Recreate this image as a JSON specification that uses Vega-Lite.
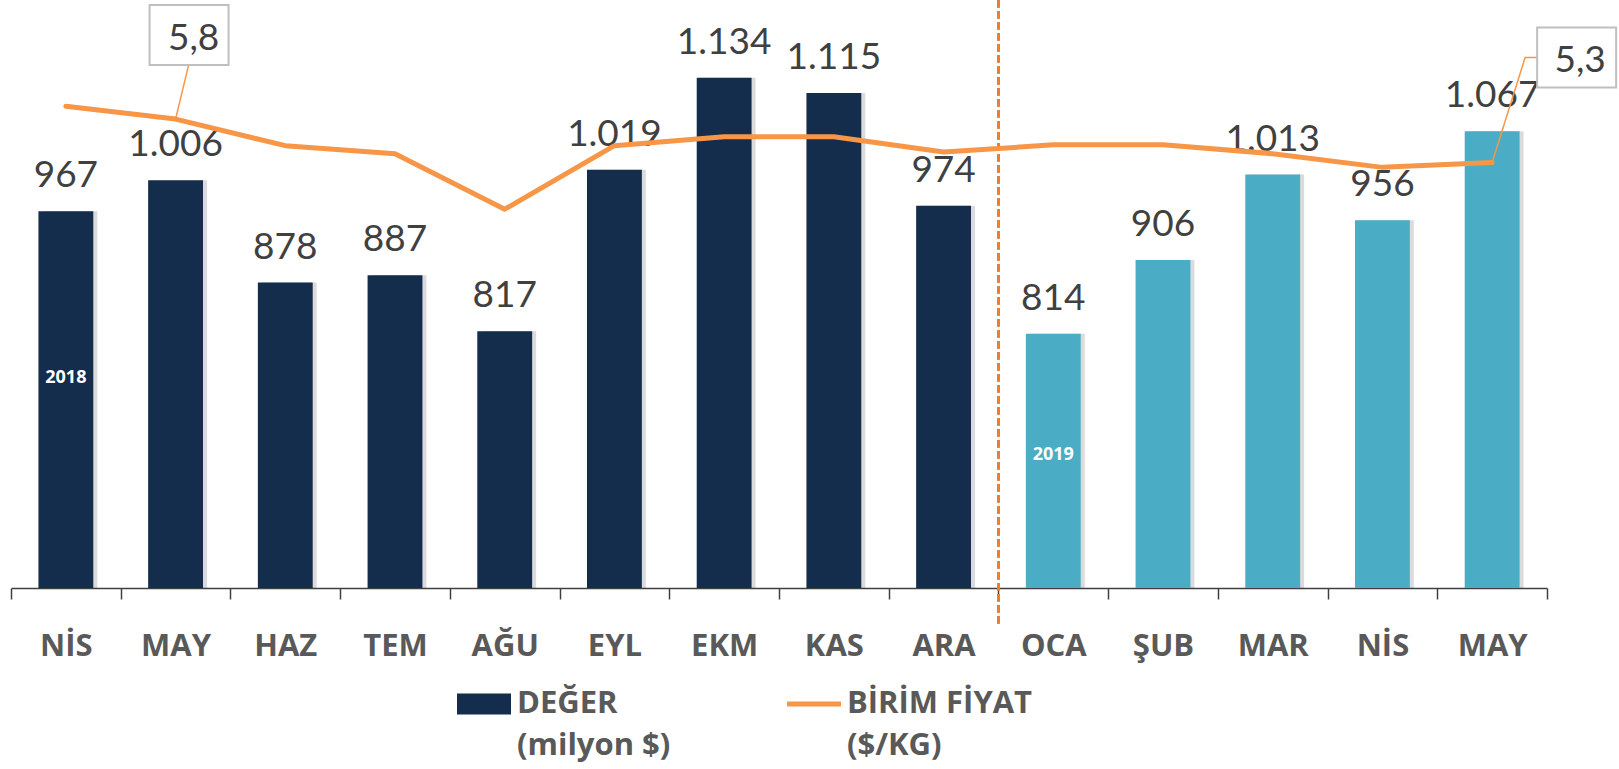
{
  "$schema": "https://vega.github.io/schema/vega-lite/v6.json",
  "width": 1536,
  "height": 563,
  "autosize": {"type": "none"},
  "padding": {"left": 11, "top": 25, "right": 72, "bottom": 181},
  "background": "white",
  "datasets": {
    "aylar": [
      {"key": "NİS-18", "yil": "2018", "deger": 967, "fiyat": 5.99},
      {"key": "MAY-18", "yil": "2018", "deger": 1006, "fiyat": 5.83},
      {"key": "HAZ-18", "yil": "2018", "deger": 878, "fiyat": 5.50},
      {"key": "TEM-18", "yil": "2018", "deger": 887, "fiyat": 5.40},
      {"key": "AĞU-18", "yil": "2018", "deger": 817, "fiyat": 4.71},
      {"key": "EYL-18", "yil": "2018", "deger": 1019, "fiyat": 5.50},
      {"key": "EKM-18", "yil": "2018", "deger": 1134, "fiyat": 5.61},
      {"key": "KAS-18", "yil": "2018", "deger": 1115, "fiyat": 5.61},
      {"key": "ARA-18", "yil": "2018", "deger": 974, "fiyat": 5.42},
      {"key": "OCA-19", "yil": "2019", "deger": 814, "fiyat": 5.51},
      {"key": "ŞUB-19", "yil": "2019", "deger": 906, "fiyat": 5.51},
      {"key": "MAR-19", "yil": "2019", "deger": 1013, "fiyat": 5.40},
      {"key": "NİS-19", "yil": "2019", "deger": 956, "fiyat": 5.23},
      {"key": "MAY-19", "yil": "2019", "deger": 1067, "fiyat": 5.29}
    ],
    "lejant": [{"seri": "DEĞER"}, {"seri": "BİRİM FİYAT"}]
  },
  "layer": [
    {
      "data": {"name": "aylar"},
      "encoding": {
        "x": {
          "field": "key", "type": "nominal", "sort": null,
          "scale": {"paddingInner": 0, "paddingOuter": 0},
          "axis": {
            "title": null, "labelExpr": "split(datum.label, '-')[0]", "labelAngle": 0,
            "labelFont": "Open Sans", "labelFontWeight": "bold", "labelFontSize": 31, "labelColor": "#595959",
            "labelBaseline": "alphabetic", "labelPadding": 56,
            "tickBand": "extent", "tickSize": 11, "tickColor": "#404040", "tickWidth": 1.5,
            "domainColor": "#404040", "domainWidth": 1.5, "grid": false
          }
        }
      },
      "layer": [
        {
          "mark": {"type": "bar", "color": "#000000", "opacity": 0.14, "xOffset": 4, "width": {"band": 0.5}},
          "encoding": {
            "y": {"field": "deger", "type": "quantitative", "scale": {"domain": [496, 1200]}, "axis": null},
            "y2": {"datum": 496}
          }
        },
        {
          "mark": {"type": "bar", "width": {"band": 0.5}},
          "encoding": {
            "y": {"field": "deger", "type": "quantitative", "scale": {"domain": [496, 1200]}, "axis": null},
            "y2": {"datum": 496},
            "fill": {"field": "yil", "type": "nominal", "scale": {"domain": ["2018", "2019"], "range": ["#142D4C", "#4BACC6"]}, "legend": null}
          }
        },
        {
          "mark": {"type": "text", "font": "Lato", "fontSize": 37, "color": "#404040", "baseline": "alphabetic", "dy": -24},
          "encoding": {
            "y": {"field": "deger", "type": "quantitative", "scale": {"domain": [496, 1200]}, "axis": null},
            "text": {"field": "deger", "type": "quantitative", "format": ",d"}
          }
        },
        {
          "transform": [{"filter": "datum.key == 'NİS-18'"}],
          "mark": {"type": "text", "font": "Open Sans", "fontWeight": "bold", "fontSize": 18, "color": "white"},
          "encoding": {
            "y": {"datum": 758, "type": "quantitative", "scale": {"domain": [496, 1200]}, "axis": null},
            "text": {"field": "yil", "type": "nominal"}
          }
        },
        {
          "transform": [{"filter": "datum.key == 'OCA-19'"}],
          "mark": {"type": "text", "font": "Open Sans", "fontWeight": "bold", "fontSize": 18, "color": "white"},
          "encoding": {
            "y": {"datum": 662, "type": "quantitative", "scale": {"domain": [496, 1200]}, "axis": null},
            "text": {"field": "yil", "type": "nominal"}
          }
        },
        {
          "mark": {"type": "rule", "color": "#ED7D31", "strokeWidth": 2, "strokeDash": [7, 4]},
          "encoding": {
            "x": {"datum": "OCA-19", "type": "nominal", "bandPosition": 0},
            "y": {"datum": 1231, "type": "quantitative", "scale": {"domain": [496, 1200]}, "axis": null},
            "y2": {"datum": 450}
          }
        }
      ]
    },
    {
      "data": {"name": "aylar"},
      "encoding": {
        "x": {
          "field": "key", "type": "nominal", "sort": null,
          "scale": {"paddingInner": 0, "paddingOuter": 0},
          "axis": {
            "title": null, "labelExpr": "split(datum.label, '-')[0]", "labelAngle": 0,
            "labelFont": "Open Sans", "labelFontWeight": "bold", "labelFontSize": 31, "labelColor": "#595959",
            "labelBaseline": "alphabetic", "labelPadding": 56,
            "tickBand": "extent", "tickSize": 11, "tickColor": "#404040", "tickWidth": 1.5,
            "domainColor": "#404040", "domainWidth": 1.5, "grid": false
          }
        },
        "y": {"field": "fiyat", "type": "quantitative", "scale": {"domain": [0, 7]}, "axis": null}
      },
      "layer": [
        {"mark": {"type": "line", "color": "#F79646", "strokeWidth": 5, "strokeCap": "round", "strokeJoin": "round"}},
        {
          "transform": [{"filter": "datum.key == 'MAY-18'"}],
          "mark": {"type": "point", "shape": "M0,0L13,-54", "size": 4, "filled": false, "color": "#F79646", "strokeWidth": 1.5, "opacity": 1}
        },
        {
          "transform": [{"filter": "datum.key == 'MAY-18'"}],
          "mark": {"type": "point", "shape": "M-26,-114H53V-54H-26Z", "size": 4, "filled": true, "fill": "white", "stroke": "#BFBFBF", "strokeWidth": 2, "opacity": 1}
        },
        {
          "transform": [{"filter": "datum.key == 'MAY-18'"}],
          "mark": {"type": "text", "font": "Lato", "fontSize": 37, "color": "#404040", "baseline": "alphabetic", "dx": 18, "dy": -69},
          "encoding": {"text": {"field": "fiyat", "type": "quantitative", "format": ".1f"}}
        },
        {
          "transform": [{"filter": "datum.key == 'MAY-19'"}],
          "mark": {"type": "point", "shape": "M0,0L33,-105L45,-105", "size": 4, "filled": false, "color": "#F79646", "strokeWidth": 1.5, "opacity": 1}
        },
        {
          "transform": [{"filter": "datum.key == 'MAY-19'"}],
          "mark": {"type": "point", "shape": "M45,-135H124V-75H45Z", "size": 4, "filled": true, "fill": "white", "stroke": "#BFBFBF", "strokeWidth": 2, "opacity": 1}
        },
        {
          "transform": [{"filter": "datum.key == 'MAY-19'"}],
          "mark": {"type": "text", "font": "Lato", "fontSize": 37, "color": "#404040", "baseline": "alphabetic", "dx": 88, "dy": -91},
          "encoding": {"text": {"field": "fiyat", "type": "quantitative", "format": ".1f"}}
        }
      ]
    },
    {
      "data": {"name": "lejant"},
      "mark": {"type": "point", "filled": true, "opacity": 0},
      "encoding": {
        "color": {
          "field": "seri", "type": "nominal", "sort": null,
          "scale": {"domain": ["DEĞER", "BİRİM FİYAT"], "range": ["#142D4C", "#F79646"]},
          "legend": {
            "title": null, "orient": "none", "legendX": 446, "legendY": 652, "direction": "horizontal",
            "padding": 0, "symbolSize": 2916, "symbolStrokeWidth": 0, "symbolOpacity": 1,
            "labelFont": "Open Sans", "labelFontWeight": "bold", "labelFontSize": 31, "labelColor": "#595959",
            "labelOffset": 6, "labelLimit": 400, "columnPadding": 116, "labelBaseline": "middle",
            "labelExpr": "datum.label == 'DEĞER' ? ['DEĞER', '(milyon $)'] : ['BİRİM FİYAT', '($/KG)']",
            "encode": {"symbols": {"update": {"opacity": {"value": 1}, "fillOpacity": {"value": 1}}}}
          }
        },
        "shape": {
          "field": "seri", "type": "nominal", "sort": null,
          "scale": {"domain": ["DEĞER", "BİRİM FİYAT"], "range": ["M-1,-0.39H1V0.39H-1Z", "M-1,-0.09H1V0.09H-1Z"]}
        }
      }
    }
  ],
  "resolve": {"scale": {"y": "independent"}},
  "config": {
    "view": {"stroke": null},
    "locale": {"number": {"decimal": ",", "thousands": ".", "grouping": [3], "currency": ["", " $"]}},
    "style": {"guide-label": {"lineHeight": 42}}
  }
}
